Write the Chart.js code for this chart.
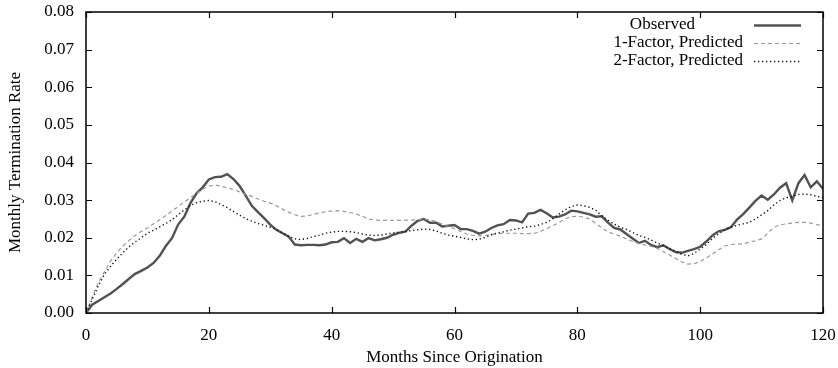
<!DOCTYPE html>
<html>
<head>
<meta charset="utf-8">
<script src="https://cdn.jsdelivr.net/npm/chart.js@4/dist/chart.umd.min.js"></script>
<style>
  html, body { margin: 0; padding: 0; background: #fff; }
  #wrap { width: 838px; height: 368px; }
</style>
</head>
<body>
<div id="wrap"><canvas id="rateChart" width="838" height="368"></canvas></div>
<script>
// months since origination 0..120
const months = [];
for (let m = 0; m <= 120; m++) months.push(m);

const observed = [
  0.0000, 0.0022, 0.0032, 0.0042, 0.0052, 0.0064, 0.0077, 0.0091, 0.0104, 0.0112,
  0.0121, 0.0133, 0.0152, 0.0178, 0.0199, 0.0235, 0.0256, 0.0292, 0.0318, 0.0334,
  0.0355, 0.0361, 0.0362, 0.0369, 0.0356, 0.0338, 0.0312, 0.0285, 0.0268, 0.0252,
  0.0235, 0.0221, 0.0212, 0.0203, 0.0182, 0.0180, 0.0181, 0.0181, 0.0180, 0.0182,
  0.0188, 0.0189, 0.0199, 0.0186, 0.0197, 0.0189, 0.0199, 0.0193, 0.0196, 0.0200,
  0.0208, 0.0213, 0.0216, 0.0232, 0.0245, 0.0250, 0.0240, 0.0240, 0.0230, 0.0232,
  0.0234, 0.0223, 0.0223, 0.0218, 0.0211, 0.0216, 0.0226, 0.0233, 0.0236, 0.0247,
  0.0246, 0.0241, 0.0264, 0.0266, 0.0274, 0.0265, 0.0254, 0.0256, 0.0262, 0.0272,
  0.0270, 0.0266, 0.0262, 0.0256, 0.0257, 0.0240, 0.0226, 0.0222, 0.0210, 0.0198,
  0.0186, 0.0192, 0.0181, 0.0175, 0.0180, 0.0170, 0.0162, 0.0160, 0.0165, 0.0170,
  0.0176, 0.0190, 0.0206, 0.0217, 0.0221, 0.0228, 0.0248, 0.0263, 0.0280, 0.0298,
  0.0312, 0.0301, 0.0315, 0.0333, 0.0345, 0.0299, 0.0345, 0.0367, 0.0334, 0.0350,
  0.0330
];

const oneFactor = [
  0.0000, 0.0042, 0.0080, 0.0110, 0.0138, 0.0160, 0.0178, 0.0193, 0.0206, 0.0217,
  0.0226, 0.0237, 0.0248, 0.0259, 0.0271, 0.0283, 0.0295, 0.0306, 0.0318, 0.0329,
  0.0337, 0.0340, 0.0337, 0.0333, 0.0328, 0.0322, 0.0316, 0.0310, 0.0303, 0.0297,
  0.0292, 0.0285, 0.0276, 0.0268, 0.0261, 0.0257, 0.0258, 0.0262, 0.0266, 0.0269,
  0.0271, 0.0272, 0.0270, 0.0267, 0.0263, 0.0257, 0.0250, 0.0247, 0.0246, 0.0246,
  0.0246, 0.0246, 0.0247, 0.0247, 0.0248, 0.0250, 0.0248, 0.0243, 0.0236, 0.0230,
  0.0224, 0.0217, 0.0210, 0.0206, 0.0205, 0.0206, 0.0209, 0.0211, 0.0212, 0.0212,
  0.0212, 0.0211, 0.0211, 0.0212, 0.0217, 0.0224, 0.0232, 0.0240, 0.0250, 0.0256,
  0.0257, 0.0255, 0.0250, 0.0238, 0.0226, 0.0216, 0.0210, 0.0204, 0.0197, 0.0190,
  0.0185, 0.0181, 0.0177, 0.0172, 0.0163, 0.0154, 0.0145, 0.0136, 0.0130, 0.0131,
  0.0137, 0.0146, 0.0157, 0.0168, 0.0178, 0.0182, 0.0183, 0.0184, 0.0188, 0.0192,
  0.0197, 0.0212, 0.0228, 0.0234, 0.0237, 0.0239, 0.0241, 0.0241, 0.0239, 0.0235,
  0.0232
];

const twoFactor = [
  0.0000, 0.0036, 0.0072, 0.0103, 0.0124, 0.0143, 0.0160, 0.0176, 0.0189, 0.0200,
  0.0212, 0.0220, 0.0229, 0.0238, 0.0248, 0.0261, 0.0274, 0.0286, 0.0293, 0.0297,
  0.0299, 0.0296, 0.0288, 0.0280, 0.0270, 0.0260, 0.0251, 0.0244, 0.0238, 0.0233,
  0.0228, 0.0222, 0.0213, 0.0204, 0.0197, 0.0195, 0.0198, 0.0203, 0.0207, 0.0212,
  0.0215, 0.0217, 0.0217, 0.0216, 0.0214, 0.0210, 0.0207, 0.0206, 0.0207, 0.0210,
  0.0213, 0.0215, 0.0217, 0.0219, 0.0221, 0.0223, 0.0222, 0.0218, 0.0212, 0.0207,
  0.0204, 0.0201, 0.0197, 0.0195, 0.0196, 0.0201, 0.0208, 0.0213, 0.0216, 0.0220,
  0.0223, 0.0226, 0.0229, 0.0231, 0.0235, 0.0241, 0.0250, 0.0263, 0.0274, 0.0283,
  0.0287, 0.0285, 0.0281, 0.0273, 0.0258, 0.0246, 0.0236, 0.0228, 0.0222, 0.0214,
  0.0206, 0.0201, 0.0194, 0.0186, 0.0179, 0.0172, 0.0163, 0.0156, 0.0152, 0.0158,
  0.0170, 0.0182, 0.0198, 0.0210, 0.0221, 0.0228, 0.0233, 0.0237, 0.0241, 0.0250,
  0.0261, 0.0272, 0.0287, 0.0299, 0.0306, 0.0310, 0.0315, 0.0316, 0.0314, 0.0310,
  0.0307
];

const seriesNames = ['Observed', '1-Factor, Predicted', '2-Factor, Predicted'];
const xTicks = [0, 20, 40, 60, 80, 100, 120];
const yTicks = [0, 0.01, 0.02, 0.03, 0.04, 0.05, 0.06, 0.07, 0.08];

const FONT = '"Liberation Serif", "Times New Roman", serif';
const FSIZE = 17;

const lineStyles = [
  { color: '#525252', width: 2.4, dash: [] },
  { color: '#9a9a9a', width: 1.2, dash: [4, 3] },
  { color: '#111111', width: 1.4, dash: [1.3, 2.7] }
];

function toPoints(values) {
  return values.map((v, i) => ({ x: months[i], y: v }));
}

// inward ticks on all four sides, plot frame and key (gnuplot look)
const framePlugin = {
  id: 'frame',
  afterDatasetsDraw(chart) {
    const ctx = chart.ctx;
    const a = chart.chartArea;
    const xs = chart.scales.x;
    const ys = chart.scales.y;
    const tl = 6;
    ctx.save();
    ctx.strokeStyle = '#000';
    ctx.lineWidth = 1.2;
    ctx.setLineDash([]);
    ctx.beginPath();
    xTicks.forEach(t => {
      const px = Math.round(xs.getPixelForValue(t)) + 0.5;
      ctx.moveTo(px, a.bottom); ctx.lineTo(px, a.bottom - tl);
      ctx.moveTo(px, a.top); ctx.lineTo(px, a.top + tl);
    });
    yTicks.forEach(t => {
      const py = Math.round(ys.getPixelForValue(t)) + 0.5;
      ctx.moveTo(a.left, py); ctx.lineTo(a.left + tl, py);
      ctx.moveTo(a.right, py); ctx.lineTo(a.right - tl, py);
    });
    ctx.stroke();
    ctx.lineWidth = 1.5;
    ctx.strokeRect(a.left, a.top, a.right - a.left, a.bottom - a.top);

    // key
    const textRight = [695, 743, 743];
    const rowY = [25, 43, 61];
    ctx.font = FSIZE + 'px ' + FONT;
    ctx.fillStyle = '#000';
    ctx.textAlign = 'right';
    ctx.textBaseline = 'middle';
    seriesNames.forEach((name, i) => {
      ctx.fillText(name, textRight[i], rowY[i]);
      const s = lineStyles[i];
      ctx.strokeStyle = s.color;
      ctx.lineWidth = s.width;
      ctx.setLineDash(s.dash);
      ctx.beginPath();
      ctx.moveTo(754, rowY[i] + 0.5);
      ctx.lineTo(801, rowY[i] + 0.5);
      ctx.stroke();
    });
    ctx.restore();
  }
};

const ctx = document.getElementById('rateChart').getContext('2d');
new Chart(ctx, {
  type: 'line',
  data: {
    datasets: [observed, oneFactor, twoFactor].map((vals, i) => ({
      label: seriesNames[i],
      data: toPoints(vals),
      borderColor: lineStyles[i].color,
      borderWidth: lineStyles[i].width,
      borderDash: lineStyles[i].dash,
      pointRadius: 0,
      tension: 0,
      fill: false
    })).reverse()
  },
  options: {
    responsive: false,
    animation: false,
    layout: { padding: { top: 12, right: 15, left: 0, bottom: 0 } },
    plugins: {
      legend: { display: false },
      tooltip: { enabled: false }
    },
    scales: {
      x: {
        type: 'linear',
        min: 0,
        max: 120,
        afterFit: s => { s.height = 55; s.paddingLeft = 0; s.paddingRight = 0; },
        afterBuildTicks: s => { s.ticks = xTicks.map(v => ({ value: v })); },
        grid: { display: false, drawTicks: false },
        border: { display: false },
        ticks: {
          color: '#000',
          font: { family: FONT, size: FSIZE },
          padding: 12,
          maxRotation: 0,
          callback: v => String(v)
        },
        title: {
          display: true,
          text: 'Months Since Origination',
          color: '#000',
          font: { family: FONT, size: FSIZE },
          padding: { bottom: 0 }
        }
      },
      y: {
        type: 'linear',
        min: 0,
        max: 0.08,
        afterFit: s => { s.width = 86; s.paddingTop = 0; s.paddingBottom = 0; },
        afterBuildTicks: s => { s.ticks = yTicks.map(v => ({ value: v })); },
        grid: { display: false, drawTicks: false },
        border: { display: false },
        ticks: {
          color: '#000',
          font: { family: FONT, size: FSIZE },
          padding: 12,
          callback: v => v.toFixed(2)
        },
        title: {
          display: true,
          text: 'Monthly Termination Rate',
          color: '#000',
          font: { family: FONT, size: FSIZE },
          padding: { top: 5 }
        }
      }
    }
  },
  plugins: [framePlugin]
});
</script>
</body>
</html>
